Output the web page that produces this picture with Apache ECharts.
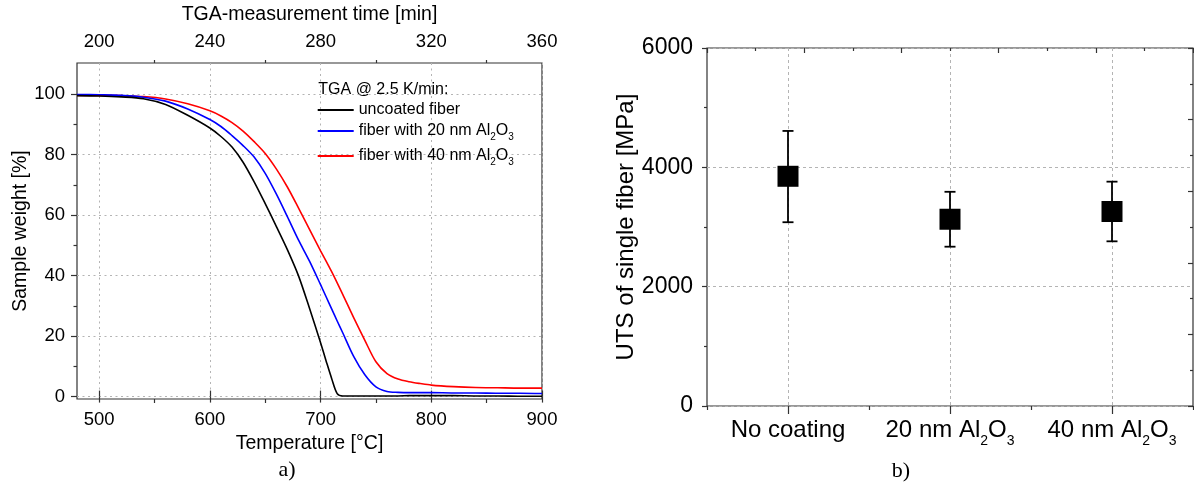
<!DOCTYPE html>
<html><head><meta charset="utf-8">
<script src="https://cdn.jsdelivr.net/npm/echarts@6/dist/echarts.min.js"></script>
<style>html,body{margin:0;padding:0;background:#fff}#c{width:1194px;height:486px}</style>
</head><body><div id="c"></div>
<script>
// ---- data: TGA curves (panel a) ----
const temperature = [480,500,520,540,560,580,600,610,620,630,640,650,660,670,680,690,700,705,710,715,720,730,740,750,760,770,780,790,800,820,840,860,880,900];
const uncoated = [99.5,99.4,99.1,98.5,96.6,93.0,88.8,86.0,82.5,77.5,71.0,63.8,56.3,48.6,40.0,29.2,17.8,11.8,6.0,1.0,0.2,0.2,0.2,0.2,0.2,0.2,0.3,0.3,0.3,0.3,0.2,0.2,0.1,0.1];
const coated20 = [99.9,99.8,99.6,99.0,97.7,95.1,91.6,89.3,86.3,83.0,79.2,73.8,67.0,59.5,51.8,44.8,37.0,33.0,29.0,25.0,21.1,13.2,7.2,3.2,1.7,1.4,1.3,1.3,1.3,1.2,1.2,1.1,1.1,1.0];
const coated40 = [99.6,99.6,99.5,99.2,98.4,96.8,94.5,92.8,90.6,87.8,84.3,80.4,75.3,69.3,62.4,55.3,48.2,44.8,41.3,37.6,33.8,26.0,18.6,11.5,7.6,5.8,4.9,4.3,3.8,3.3,3.0,2.9,2.8,2.8];
const seriesNames = ['uncoated fiber','fiber with 20 nm Al2O3','fiber with 40 nm Al2O3'];
const tempTicks = [500,600,700,800,900];
const tempMinorTicks = [550,650,750,850];
const timeTicks = [200,240,280,320,360];
const timeMinorTicks = [220,260,300,340];
const weightTicks = [0,20,40,60,80,100];
const weightMinorTicks = [10,30,50,70,90];
// ---- data: UTS (panel b) ----
const categories = ['No coating','20 nm Al2O3','40 nm Al2O3'];
const utsMean = [3850,3130,3260];
const utsLow = [3080,2670,2760];
const utsHigh = [4610,3590,3760];

const FONT = "'Liberation Sans', Arial, sans-serif";
const AX = '#333';
const sub = s => s.replace(/Al2O3/g, 'Al{s|2}O{s|3}');
const zip = (xs, ys) => xs.map((x, i) => [x, ys[i]]);

const chart = echarts.init(document.getElementById('c'), null, {renderer: 'canvas'});
const hidden = {show: false};
const option = {
  animation: false,
  backgroundColor: '#fff',
  grid: [
    {left: 77, top: 62, width: 465, height: 337, show: true, borderColor: AX, borderWidth: 1.2, backgroundColor: 'transparent'},
    {left: 707, top: 48, width: 486, height: 358, show: true, borderColor: AX, borderWidth: 1.2, backgroundColor: 'transparent'}
  ],
  legend: {
    data: seriesNames, orient: 'vertical', left: 317.7, top: 101.5, padding: 0, itemGap: 0,
    icon: 'rect', itemWidth: 36, itemHeight: 1.8, selectedMode: false,
    formatter: n => sub(n),
    textStyle: {fontFamily: FONT, fontSize: 16, color: '#000', lineHeight: 17,
      rich: {s: {fontFamily: FONT, fontSize: 10, lineHeight: 25, padding: [12, 0, 0, 0], color: '#000'}}}
  },
  xAxis: [
    {type: 'value', gridIndex: 0, position: 'bottom', min: 480, max: 900,
     name: 'Temperature [°C]', nameLocation: 'middle', nameGap: 32.5,
     nameTextStyle: {fontFamily: FONT, fontSize: 19.5, color: '#000'},
     axisLine: hidden,
     axisTick: {show: true, customValues: tempTicks, length: 6, lineStyle: {color: AX, width: 1.2}},
     axisLabel: {customValues: tempTicks, margin: 11, fontFamily: FONT, fontSize: 18.5, color: '#000'},
     splitLine: {show: true, lineStyle: {color: '#b4b4b4', width: 1, type: [2, 3.5]}}},
    {type: 'value', gridIndex: 0, position: 'top', min: 192, max: 360,
     name: 'TGA-measurement time [min]', nameLocation: 'middle', nameGap: 38,
     nameTextStyle: {fontFamily: FONT, fontSize: 19.5, color: '#000'},
     axisLine: hidden,
     axisTick: {show: true, customValues: timeTicks, length: 6, lineStyle: {color: AX, width: 1.2}},
     axisLabel: {customValues: timeTicks, margin: 12, fontFamily: FONT, fontSize: 18.5, color: '#000'},
     splitLine: hidden},
    {type: 'value', gridIndex: 0, position: 'bottom', min: 480, max: 900,
     axisLine: hidden, axisLabel: hidden, splitLine: hidden,
     axisTick: {show: true, customValues: tempMinorTicks, length: 4, lineStyle: {color: AX, width: 1.2}}},
    {type: 'value', gridIndex: 0, position: 'top', min: 192, max: 360,
     axisLine: hidden, axisLabel: hidden, splitLine: hidden,
     axisTick: {show: true, customValues: timeMinorTicks, length: 3, lineStyle: {color: AX, width: 1.2}}},
    {type: 'category', gridIndex: 1, position: 'bottom', data: categories, boundaryGap: true,
     axisLine: hidden,
     axisTick: {show: true, alignWithLabel: true, length: 8, lineStyle: {color: AX, width: 1.2}},
     axisLabel: {margin: 4, interval: 0, formatter: v => sub(v), fontFamily: FONT, fontSize: 24, color: '#000', lineHeight: 40,
       rich: {s: {fontFamily: FONT, fontSize: 14, padding: [23, 0, 0, 0], color: '#000'}}},
     splitLine: {show: true, alignWithLabel: true, lineStyle: {color: '#b4b4b4', width: 1, type: [3, 3]}}},
    {type: 'category', gridIndex: 1, position: 'bottom', data: categories, boundaryGap: true,
     axisLine: hidden, axisLabel: hidden, splitLine: hidden,
     axisTick: {show: true, length: 4, lineStyle: {color: AX, width: 1.2}}},
    {type: 'value', gridIndex: 1, position: 'top', min: 0, max: 10, interval: 2,
     axisLine: hidden, axisLabel: hidden, splitLine: hidden,
     axisTick: {show: true, inside: true, length: 5, lineStyle: {color: AX, width: 1.2}},
     minorTick: {show: true, splitNumber: 2, length: 3, lineStyle: {color: AX, width: 1.2}}}
  ],
  yAxis: [
    {type: 'value', gridIndex: 0, position: 'left', min: -0.8, max: 110.3,
     name: 'Sample weight [%]', nameLocation: 'middle', nameGap: 45,
     nameTextStyle: {fontFamily: FONT, fontSize: 19.5, color: '#000'},
     axisLine: hidden,
     axisTick: {show: true, customValues: weightTicks, length: 6, lineStyle: {color: AX, width: 1.2}},
     axisLabel: {customValues: weightTicks, margin: 12, fontFamily: FONT, fontSize: 18.5, color: '#000'},
     splitLine: {show: true, lineStyle: {color: '#b4b4b4', width: 1, type: [2, 3.5]}}},
    {type: 'value', gridIndex: 0, position: 'left', min: -0.8, max: 110.3,
     axisLine: hidden, axisLabel: hidden, splitLine: hidden,
     axisTick: {show: true, customValues: weightMinorTicks, length: 3.5, lineStyle: {color: AX, width: 1.2}}},
    {type: 'value', gridIndex: 1, position: 'left', min: 0, max: 6000, interval: 2000,
     name: 'UTS of single fiber [MPa]', nameLocation: 'middle', nameGap: 67,
     nameTextStyle: {fontFamily: FONT, fontSize: 24, color: '#000'},
     axisLine: hidden,
     axisTick: {show: true, length: 5, lineStyle: {color: AX, width: 1.2}},
     minorTick: {show: true, splitNumber: 2, length: 3, lineStyle: {color: AX, width: 1.2}},
     axisLabel: {margin: 14, fontFamily: FONT, fontSize: 23, color: '#000', formatter: v => String(v)},
     splitLine: {show: true, lineStyle: {color: '#b4b4b4', width: 1, type: [3, 3]}}},
    {type: 'value', gridIndex: 1, position: 'right', min: 0, max: 6000, interval: 1200,
     axisLine: hidden, axisLabel: hidden, splitLine: hidden,
     axisTick: {show: true, inside: true, length: 5, lineStyle: {color: AX, width: 1.2}},
     minorTick: {show: true, splitNumber: 2, length: 3, lineStyle: {color: AX, width: 1.2}}}
  ],
  series: [
    {name: seriesNames[0], type: 'line', xAxisIndex: 0, yAxisIndex: 0, data: zip(temperature, uncoated),
     symbol: 'none', smooth: 0.3, color: '#000', lineStyle: {width: 1.6, color: '#000'}, z: 5},
    {name: seriesNames[1], type: 'line', xAxisIndex: 0, yAxisIndex: 0, data: zip(temperature, coated20),
     symbol: 'none', smooth: 0.3, color: '#0000ff', lineStyle: {width: 1.6, color: '#0000ff'}, z: 4},
    {name: seriesNames[2], type: 'line', xAxisIndex: 0, yAxisIndex: 0, data: zip(temperature, coated40),
     symbol: 'none', smooth: 0.3, color: '#ff0000', lineStyle: {width: 1.6, color: '#ff0000'}, z: 3},
    {name: 'error', type: 'custom', xAxisIndex: 4, yAxisIndex: 2,
     data: categories.map((c, i) => [i, utsLow[i], utsHigh[i]]),
     encode: {x: 0, y: [1, 2]}, z: 4,
     renderItem: (params, api) => {
       const x = api.value(0);
       const pLo = api.coord([x, api.value(1)]);
       const pHi = api.coord([x, api.value(2)]);
       const w = 5.5;
       const style = {stroke: '#000', lineWidth: 1.8};
       return {type: 'group', children: [
         {type: 'line', shape: {x1: pLo[0], y1: pLo[1], x2: pHi[0], y2: pHi[1]}, style},
         {type: 'line', shape: {x1: pLo[0] - w, y1: pLo[1], x2: pLo[0] + w, y2: pLo[1]}, style},
         {type: 'line', shape: {x1: pHi[0] - w, y1: pHi[1], x2: pHi[0] + w, y2: pHi[1]}, style}
       ]};
     }},
    {name: 'UTS', type: 'scatter', xAxisIndex: 4, yAxisIndex: 2,
     data: categories.map((c, i) => [i, utsMean[i]]),
     symbol: 'rect', symbolSize: 21, itemStyle: {color: '#000', opacity: 1}, z: 6}
  ],
  graphic: [
    {type: 'text', x: 318.3, y: 90, style: {text: 'TGA @ 2.5 K/min:', font: "16px " + FONT, fill: '#000', verticalAlign: 'middle'}},
    {type: 'text', x: 287, y: 470, style: {text: 'a)', font: "22px 'Liberation Serif', 'Times New Roman', serif", fill: '#000', align: 'center', verticalAlign: 'middle'}},
    {type: 'text', x: 901, y: 471, style: {text: 'b)', font: "22px 'Liberation Serif', 'Times New Roman', serif", fill: '#000', align: 'center', verticalAlign: 'middle'}}
  ]
};
chart.setOption(option);
</script></body></html>
